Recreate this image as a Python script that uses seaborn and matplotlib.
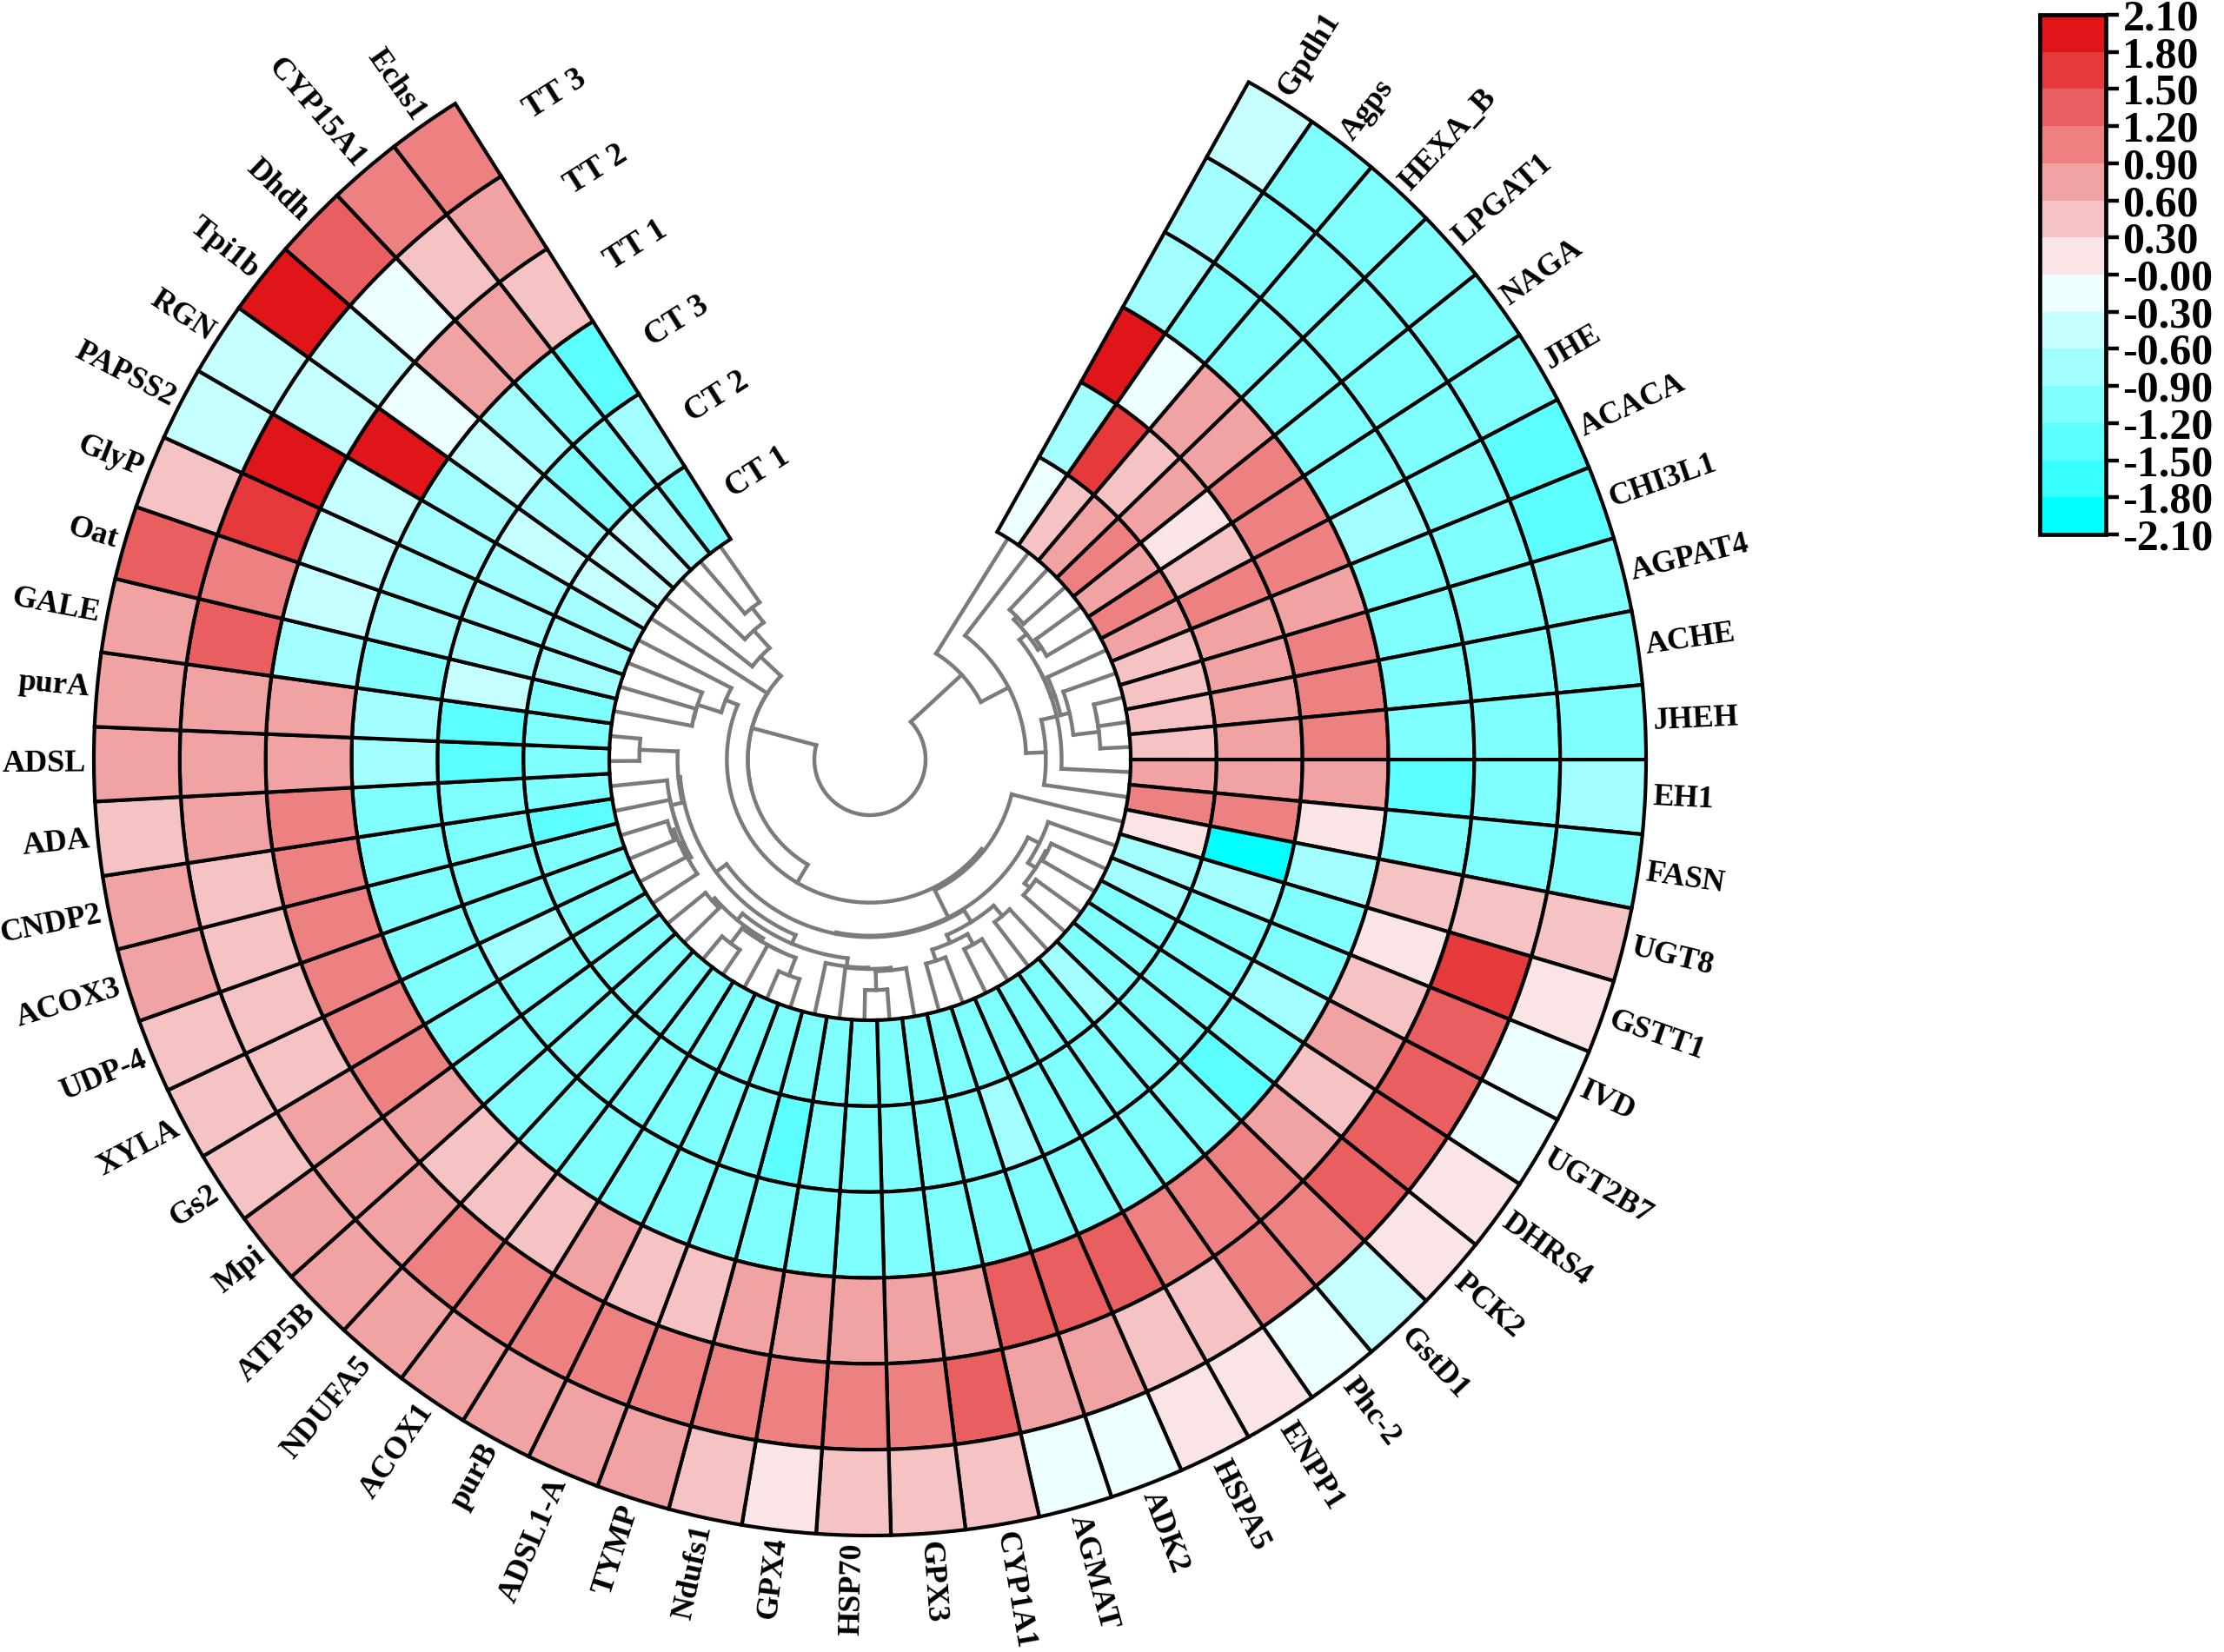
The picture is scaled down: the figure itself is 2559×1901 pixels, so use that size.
import numpy as np
import matplotlib
matplotlib.use("Agg")
import matplotlib.pyplot as plt
import matplotlib.colors as mcolors
import matplotlib.cm as mcm
import seaborn as sns

# ---------------- data ----------------
genes = ["Gpdh1", "Agps", "HEXA_B", "LPGAT1", "NAGA", "JHE", "ACACA", "CHI3L1",
         "AGPAT4", "ACHE", "JHEH", "EH1", "FASN", "UGT8", "GSTT1", "IVD", "UGT2B7",
         "DHRS4", "PCK2", "GstD1", "Phc-2", "ENPP1", "HSPA5", "ADK2", "AGMAT",
         "CYP1A1", "GPX3", "HSP70", "GPX4", "Ndufs1", "TYMP", "ADSL1-A", "purB",
         "ACOX1", "NDUFA5", "ATP5B", "Mpi", "Gs2", "XYLA", "UDP-4", "ACOX3", "CNDP2",
         "ADA", "ADSL", "purA", "GALE", "Oat", "GlyP", "PAPSS2", "RGN", "Tpi1b",
         "Dhdh", "CYP15A1", "Echs1"]

track_names = ["CT 1", "CT 2", "CT 3", "TT 1", "TT 2", "TT 3"]

CT1 = [-0.15, 0.45, 0.75, 1.05, 0.75, 1.05, 0.75, 0.45, 0.45, 0.45, 0.45, 0.75, 1.05,
       0.15, -0.75, -0.75, -1.05, -1.05, -1.05, -0.75, -1.05, -1.05, -1.05, -1.05, -1.05,
       -1.05, -1.05, -1.05, -1.05, -1.05, -1.05, -1.05, -1.05, -1.05, -1.05, -1.05, -1.05,
       -1.05, -1.05, -1.05, -1.05, -1.35, -1.05, -1.05, -1.05, -1.05, -0.75, -0.75, -0.75,
       -0.45, -0.45, -0.45, -0.75, -1.05]
CT2 = [-0.75, 1.65, 0.45, 0.75, 0.15, 0.45, 1.05, 0.75, 0.75, 0.75, 0.75, 0.75, 1.05,
       -1.95, -0.75, -1.05, -1.05, -1.05, -1.05, -1.05, -1.05, -1.05, -1.05, -0.75, -1.05,
       -1.05, -1.05, -1.05, -1.05, -1.35, -1.05, -1.05, -1.05, -1.05, -1.05, -1.05, -1.05,
       -1.05, -0.75, -1.05, -1.05, -1.05, -1.05, -1.35, -1.35, -0.45, -0.75, -0.75, -0.75,
       -0.45, -0.75, -1.05, -1.05, -0.75]
CT3 = [1.95, -0.15, 0.75, 0.75, 1.05, 1.05, 1.05, 0.75, 1.05, 1.05, 1.05, 0.75, 0.15,
       -0.75, -1.05, -1.05, -0.75, -1.05, -1.35, -1.05, -1.05, -1.05, -1.05, -1.05, -1.05,
       -1.05, -1.05, -1.05, -1.05, -1.05, -1.05, -1.05, -1.05, -1.05, -1.05, -1.05, -1.05,
       -1.05, -1.05, -1.05, -1.05, -1.05, -1.05, -0.75, -0.75, -1.05, -0.75, -0.75, -0.75,
       -0.75, -0.45, -0.75, -1.05, -1.35]
TT1 = [-0.75, -1.05, -1.05, -1.05, -1.05, -1.05, -0.75, -1.05, -1.05, -1.05, -1.05, -1.35, -1.05,
       0.45, 0.15, 0.45, 0.75, 0.45, 0.75, 1.05, 1.05, 1.05, 1.35, 1.35, 1.35,
       0.75, 0.75, 0.75, 0.75, 0.75, 0.45, 0.45, 0.75, 0.45, 0.45, 0.45, 0.75,
       1.05, 1.05, 1.05, 1.05, 1.05, 1.05, 0.75, 0.75, -0.75, -0.45, -0.45, -0.45,
       1.95, -0.15, 0.75, 0.75, 0.45]
TT2 = [-0.75, -1.05, -1.05, -1.05, -1.05, -1.05, -1.05, -1.05, -1.05, -1.05, -1.05, -1.05, -1.05,
       0.45, 1.65, 1.35, 1.35, 1.35, 1.35, 1.05, 1.05, 0.45, 0.45, 0.75, 0.75,
       1.35, 1.05, 1.05, 1.05, 1.05, 1.05, 1.05, 1.05, 1.05, 1.05, 0.75, 0.75,
       0.75, 0.45, 0.45, 0.45, 0.45, 0.75, 0.75, 0.75, 1.35, 1.05, 1.65, 1.95,
       -0.45, -0.45, -0.15, 0.45, 0.75]
TT3 = [-0.45, -1.05, -1.05, -1.05, -1.05, -1.05, -1.35, -1.35, -1.05, -1.05, -1.05, -0.75, -1.05,
       0.45, 0.15, -0.15, -0.15, 0.15, 0.15, -0.45, -0.15, 0.15, 0.15, -0.15, -0.15,
       0.45, 0.45, 0.45, 0.15, 0.45, 0.75, 0.75, 0.75, 0.75, 0.75, 0.75, 0.75,
       0.45, 0.45, 0.45, 0.75, 0.75, 0.45, 0.75, 0.75, 0.75, 1.35, 0.45, -0.45,
       -0.45, 1.95, 1.35, 1.05, 1.05]

bin_colors = ["#00FFFF", "#38FFFF", "#5CFFFF", "#80FFFF", "#A3FFFF", "#C6FFFF", "#EEFFFF",
              "#FBE4E5", "#F6C3C4", "#F1A2A3", "#ED8081", "#E95E5F", "#E5393C", "#E01519"]
bounds = [-2.1, -1.8, -1.5, -1.2, -0.9, -0.6, -0.3, 0.0, 0.3, 0.6, 0.9, 1.2, 1.5, 1.8, 2.1]
bound_labels = ["-2.10", "-1.80", "-1.50", "-1.20", "-0.90", "-0.60", "-0.30", "-0.00",
                "0.30", "0.60", "0.90", "1.20", "1.50", "1.80", "2.10"]

# ---------------- style ----------------
sns.set_theme(style="white")
plt.rcParams["font.family"] = ["Liberation Serif", "DejaVu Serif"]
plt.rcParams["font.weight"] = "bold"

W, H = 2559, 1901
fig = plt.figure(figsize=(W / 100, H / 100), dpi=100)
fig.patch.set_facecolor("white")

cx, cy = 1001, 874          # circle centre (px)
R_out, R_in, R_lim = 893.0, 300.0, 905.0
R_root = 64.0
ax = fig.add_axes([(cx - R_lim) / W, 1 - (cy + R_lim) / H, 2 * R_lim / W, 2 * R_lim / H],
                  projection="polar")
ax.set_theta_zero_location("N")
ax.set_theta_direction(-1)
ax.set_ylim(0, R_lim)
ax.set_axis_off()

cmap = mcolors.ListedColormap(sns.color_palette(bin_colors))
norm = mcolors.BoundaryNorm(bounds, cmap.N)

n = len(genes)
th_start, th_end = 29.2, 327.7
w_deg = (th_end - th_start) / n
theta_deg = th_start + w_deg * (np.arange(n) + 0.5)
theta = np.deg2rad(theta_deg)
ring_w = (R_out - R_in) / 6

tracks = [CT1, CT2, CT3, TT1, TT2, TT3]
for k, vals in enumerate(tracks):
    ax.bar(theta, ring_w, width=np.deg2rad(w_deg), bottom=R_in + k * ring_w,
           color=cmap(norm(np.array(vals))), edgecolor="black", linewidth=3.0,
           align="center", clip_on=False, zorder=3)

# gene labels
for t, g in zip(theta_deg, genes):
    if t < 180:
        rot, ha = 90 - t, "left"
    else:
        rot, ha = 270 - t, "right"
    ax.text(np.deg2rad(t), R_out + 9, g, rotation=rot, rotation_mode="anchor",
            ha=ha, va="center", fontsize=26, fontweight="bold", color="black")

# track labels in the gap
for k, name in enumerate(track_names):
    rm = R_in + (k + 0.5) * ring_w
    ax.text(np.deg2rad(th_end + 4.4), rm, name, rotation=360 - th_end,
            rotation_mode="anchor", ha="left", va="center", fontsize=27,
            fontweight="bold", color="black")

# ---------------- dendrogram (order-constrained average linkage) ----------------
X = np.column_stack(tracks)
clusters = [{"m": [i], "t": theta[i], "h": 0.0, "leaf": True} for i in range(n)]
links = []
while len(clusters) > 1:
    best = None
    for k in range(len(clusters) - 1):
        A = X[clusters[k]["m"]]
        B = X[clusters[k + 1]["m"]]
        d = np.sqrt(((A[:, None, :] - B[None, :, :]) ** 2).sum(-1)).mean()
        if best is None or d < best[0]:
            best = (d, k)
    d, k = best
    a, b = clusters[k], clusters[k + 1]
    h = max(d, a["h"], b["h"])
    links.append((a, b, h))
    clusters[k:k + 2] = [{"m": a["m"] + b["m"], "t": (a["t"] + b["t"]) / 2, "h": h, "leaf": False}]

hmax = clusters[0]["h"]
c0, gam = 0.3, 0.7


def rad(node_h, leaf=False):
    if leaf:
        return R_in
    return R_in - (R_in - R_root) * ((node_h + c0) / (hmax + c0)) ** gam


dcol, dlw = "#7b7b7b", 3.2
for a, b, h in links:
    rn = rad(h)
    for c in (a, b):
        ax.plot([c["t"], c["t"]], [rad(c["h"], c["leaf"]), rn], color=dcol, lw=dlw,
                solid_capstyle="projecting", zorder=2)
    arc = np.linspace(a["t"], b["t"], 60)
    ax.plot(arc, np.full_like(arc, rn), color=dcol, lw=dlw, solid_capstyle="projecting",
            zorder=2)

# ---------------- colorbar ----------------
cax = fig.add_axes([2347 / W, 1 - 615 / H, 76 / W, 598 / H])
cb = fig.colorbar(mcm.ScalarMappable(norm=norm, cmap=cmap), cax=cax, ticks=bounds)
cb.ax.set_yticklabels(bound_labels, fontsize=36, fontweight="bold", color="black")
cb.outline.set_linewidth(3.4)
cb.outline.set_edgecolor("black")
cb.ax.tick_params(axis="y", width=3.2, length=11, pad=3, direction="out", right=True,
                  colors="black", labelcolor="black")

fig.savefig("out.png", dpi=100, facecolor="white")
